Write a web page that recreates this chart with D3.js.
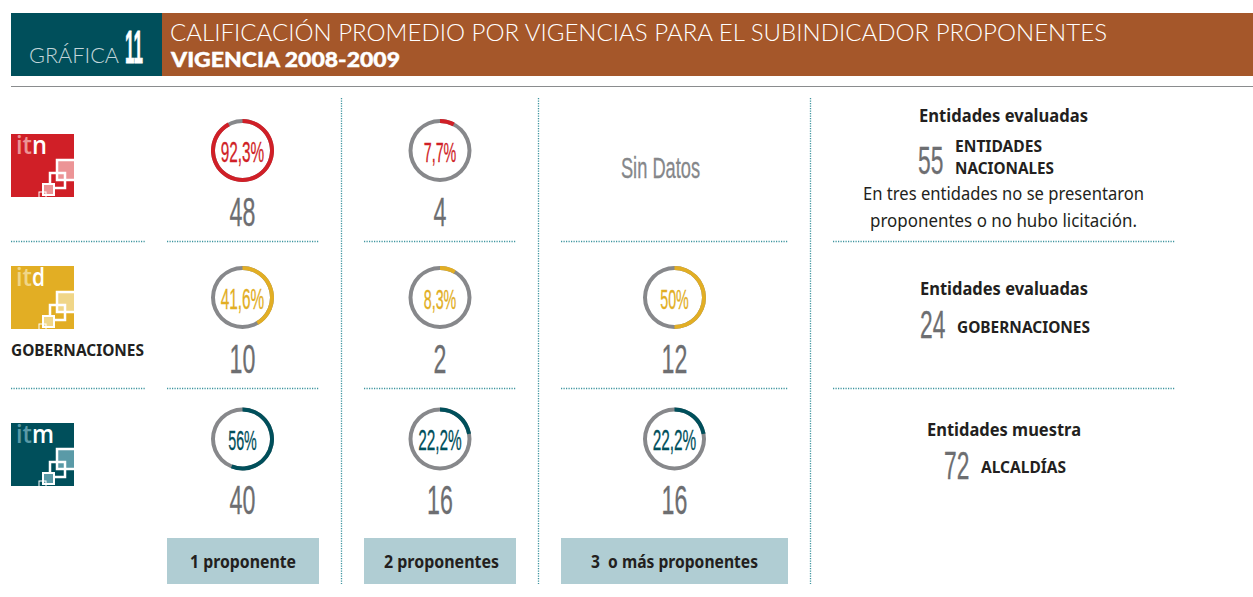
<!DOCTYPE html>
<html>
<head>
<meta charset="utf-8">
<script src="https://cdn.jsdelivr.net/npm/d3@7"></script>
<style>
  html, body { margin: 0; background: #fff; }
  svg { display: block; }
</style>
</head>
<body>
<script>
//chart values
var rowNames = ["itn", "itd", "itm"];
var columnNames = ["1 proponente", "2 proponentes", "3  o más proponentes"];
var percentItn = [92.3, 7.7, null];
var percentItd = [41.6, 8.3, 50];
var percentItm = [56, 22.2, 22.2];
var labelsItn = ["92,3%", "7,7%", "Sin Datos"];
var labelsItd = ["41,6%", "8,3%", "50%"];
var labelsItm = ["56%", "22,2%", "22,2%"];
var countsItn = [48, 4, null];
var countsItd = [10, 2, 12];
var countsItm = [40, 16, 16];

var percents = [percentItn, percentItd, percentItm];
var labels = [labelsItn, labelsItd, labelsItm];
var counts = [countsItn, countsItd, countsItm];

//colours
var teal = "#004f5b", brown = "#a5572a", red = "#d01f27", yellow = "#e2ae24";
var gray = "#87888b", numberGray = "#6d6e71", ink = "#231f20", pale = "#b0cdd3", dots = "#3f959f";
var rowColor = d3.scaleOrdinal().domain(rowNames).range([red, yellow, teal]);
var rowTint = d3.scaleOrdinal().domain(rowNames).range(["#ec9496", "#f0d688", "#5a9aa7"]);

//fixed layout of the grid
var colX = d3.scaleOrdinal().domain(columnNames).range([242.5, 440, 674.5]);
var ringY = d3.scaleOrdinal().domain(rowNames).range([150.5, 297.5, 439]);
var logoY = d3.scaleOrdinal().domain(rowNames).range([134, 266, 423]);
var colSpan = [[167, 319], [364, 516], [561, 788]];

var svg = d3.select("body").append("svg")
  .attr("width", 1253)
  .attr("height", 597);

var bodyFont = "'Noto Sans', 'Open Sans', sans-serif";
var narrowFont = "'Liberation Sans', Arial, sans-serif";

//normal text, squeezed to a width when one is given
function label(str, x, y, size, weight, color, width, anchor, family){
  var t = svg.append("text")
    .attr("x", x)
    .attr("y", y)
    .attr("font-family", family || bodyFont)
    .attr("font-size", size)
    .attr("font-weight", weight)
    .attr("fill", color)
    .attr("text-anchor", anchor || "start")
    .text(str);
  if (width) {
    t.attr("textLength", width).attr("lengthAdjust", "spacingAndGlyphs");
  }
  return t;
}

//tall condensed figures, the font has no condensed cut so scale it in x
//the squeeze thins the stems, a hairline stroke gives the weight back
function narrow(str, x, y, size, color, squeeze, anchor, weight){
  return svg.append("text")
    .attr("transform", "translate(" + x + "," + y + ") scale(" + squeeze + ",1)")
    .attr("font-family", narrowFont)
    .attr("font-size", size)
    .attr("font-weight", weight || "normal")
    .attr("fill", color)
    .attr("stroke", color)
    .attr("stroke-width", 0.3)
    .attr("text-anchor", anchor || "middle")
    .text(str);
}

function dotted(x1, y1, x2, y2){
  svg.append("line")
    .attr("x1", x1).attr("y1", y1)
    .attr("x2", x2).attr("y2", y2)
    .attr("stroke", dots)
    .attr("stroke-width", 1.3)
    .attr("stroke-dasharray", "1.2 1.3");
}

//header band
svg.append("rect").attr("x", 11).attr("y", 13).attr("width", 151).attr("height", 63).attr("fill", teal);
svg.append("rect").attr("x", 162).attr("y", 13).attr("width", 1091).attr("height", 63).attr("fill", brown);
label("GRÁFICA", 29, 63, 22, 300, "#c3d6da", 90, "start", "Lato, sans-serif");
narrow("11", 125, 63, 47, "#fff", 0.36, "start", "bold").attr("stroke-width", 0.8);
label("CALIFICACIÓN PROMEDIO POR VIGENCIAS PARA EL SUBINDICADOR PROPONENTES", 170, 41, 24, 300, "#fff", 937, "start", "Lato, sans-serif");
label("VIGENCIA 2008-2009", 171, 67, 21, 900, "#fff", 229, "start", "Lato, sans-serif")
  .attr("stroke", "#fff").attr("stroke-width", 0.4);
svg.append("line").attr("x1", 11).attr("y1", 86.5).attr("x2", 1253).attr("y2", 86.5)
  .attr("stroke", "#8a8c8e").attr("stroke-width", 1);

//vertical dotted separators
[341.5, 538.5, 810.5].forEach(function(x){
  dotted(x, 98, x, 584);
});

//horizontal dotted separators
[241.5, 388.5].forEach(function(y){
  dotted(11, y, 145, y);
  colSpan.forEach(function(s){ dotted(s[0], y, s[1], y); });
  dotted(833, y, 1175, y);
});

//logos
var logoLetterWidth = d3.scaleOrdinal().domain(rowNames).range([15, 13, 22]);
rowNames.forEach(function(name){
  var g = svg.append("g").attr("transform", "translate(11," + logoY(name) + ")");
  g.append("rect").attr("width", 63).attr("height", 63).attr("fill", rowColor(name));
  g.append("text").attr("x", 5).attr("y", 20)
    .attr("font-family", "'Open Sans', sans-serif").attr("font-size", 26).attr("font-weight", 600)
    .attr("textLength", 16).attr("lengthAdjust", "spacingAndGlyphs")
    .attr("fill", rowTint(name)).text("it");
  g.append("text").attr("x", 21).attr("y", 20)
    .attr("font-family", "'Open Sans', sans-serif").attr("font-size", 26).attr("font-weight", 600)
    .attr("textLength", logoLetterWidth(name)).attr("lengthAdjust", "spacingAndGlyphs")
    .attr("fill", "#fff").text(name.slice(2));
  //stepped squares, clipped by the logo edge on the right and the bottom
  var squares = [
    {x: 46, y: 26, w: 20, h: 20, fill: rowTint(name), sw: 2.5},
    {x: 39, y: 39, w: 15, h: 15, fill: "none", sw: 2.5},
    {x: 32, y: 50, w: 11, h: 11, fill: rowTint(name), sw: 2},
    {x: 28, y: 58, w: 7, h: 8, fill: "none", sw: 1}
  ];
  var clipId = "clip-" + name;
  g.append("clipPath").attr("id", clipId).append("rect").attr("width", 63).attr("height", 63);
  g.append("g").attr("clip-path", "url(#" + clipId + ")")
    .selectAll("rect")
    .data(squares)
    .enter()
    .append("rect")
    .attr("x", function(d){ return d.x; })
    .attr("y", function(d){ return d.y; })
    .attr("width", function(d){ return d.w; })
    .attr("height", function(d){ return d.h; })
    .attr("fill", function(d){ return d.fill; })
    .attr("stroke", "#fff")
    .attr("stroke-width", function(d){ return d.sw; });
});
label("GOBERNACIONES", 11, 356, 16.5, 700, ink, 133);

//rings
var angle = d3.scaleLinear().domain([0, 100]).range([0, 2 * Math.PI]);
var arc = d3.arc().innerRadius(27.5).outerRadius(31.5);

rowNames.forEach(function(name, r){
  columnNames.forEach(function(col, c){
    var x = colX(col), y = ringY(name);
    var value = percents[r][c];
    if (value === null) {
      //no ring here, the note sits a bit left of the column centre
      narrow(labels[r][c], 660.5, 178, 29, "#85878a", 0.63);
      return;
    }
    var g = svg.append("g").attr("transform", "translate(" + x + "," + y + ")");
    g.append("path")
      .attr("d", arc({startAngle: 0, endAngle: 2 * Math.PI}))
      .attr("fill", gray);
    g.append("path")
      .attr("d", arc({startAngle: 0, endAngle: angle(value)}))
      .attr("fill", rowColor(name));
    var fontSize = labels[r][c].length > 4 ? 29 : 27;
    narrow(labels[r][c], x, y + 11, fontSize, rowColor(name), 0.53);
    narrow(counts[r][c], x, y + 75, 40, numberGray, 0.58);
  });
});

//column legend boxes
columnNames.forEach(function(col, c){
  svg.append("rect")
    .attr("x", colSpan[c][0])
    .attr("y", 538)
    .attr("width", colSpan[c][1] - colSpan[c][0])
    .attr("height", 46)
    .attr("fill", pale);
});
label(columnNames[0], 190, 568, 18, 700, ink, 106);
label(columnNames[1], 384, 568, 18, 700, ink, 115);
label(columnNames[2], 591, 568, 18, 700, ink, 167).style("white-space", "pre");

//right hand notes
label("Entidades evaluadas", 919, 122, 18, 700, ink, 169);
narrow("55", 918, 174, 38, numberGray, 0.6, "start");
label("ENTIDADES", 955, 152, 16, 700, ink, 87);
label("NACIONALES", 955, 174, 16, 700, ink, 99);
label("En tres entidades no se presentaron", 863, 200, 18.5, 400, ink, 281);
label("proponentes o no hubo licitación.", 870, 227, 18.5, 400, ink, 267);

label("Entidades evaluadas", 920, 295, 18, 700, ink, 168);
narrow("24", 920, 338, 38, numberGray, 0.6, "start");
label("GOBERNACIONES", 957, 333, 16.5, 700, ink, 133);

label("Entidades muestra", 927, 436, 18, 700, ink, 154);
narrow("72", 944, 479, 38, numberGray, 0.6, "start");
label("ALCALDÍAS", 981, 473, 16, 700, ink, 85);
</script>
</body>
</html>
